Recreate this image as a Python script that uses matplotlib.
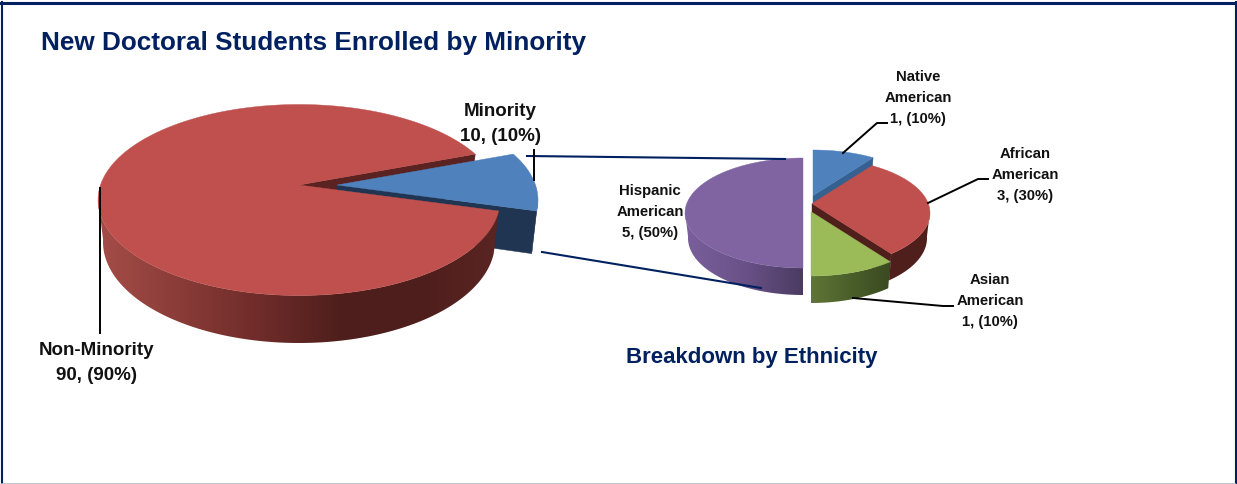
import itertools

import matplotlib
matplotlib.use('Agg')
import matplotlib.pyplot as plt
from matplotlib.colors import LinearSegmentedColormap
from matplotlib.patches import Polygon
import numpy as np

main_labels = ['Non-Minority', 'Minority']
main_values = [90, 10]
main_pcts = [90, 10]

eth_labels = ['Native\nAmerican', 'African\nAmerican', 'Asian\nAmerican', 'Hispanic\nAmerican']
eth_values = [1, 3, 1, 5]
eth_pcts = [10, 30, 10, 50]

NAVY = '#002060'
FONT = ['Liberation Sans']

# painter's order, images would go below patches otherwise
layer = itertools.count(3)


def slice_angles(values, start):
	# clockwise from start, in degrees
	frac = np.cumsum([0] + list(values)) / float(sum(values))
	return [(start - 360 * frac[i], start - 360 * frac[i + 1]) for i in range(len(values))]


def project(u, v, disc, level=0, off=(0, 0)):
	# perspective squash of the unit disc, so the apex sits above the ellipse centre
	cx, cy, rx, ry, b, depth, shrink, grow = disc
	rx = rx - shrink * level
	ry = ry + grow * level
	d = 1 + b * v
	px = u * np.sqrt(1 - b * b) / d
	py = (v + b) / d
	return cx + off[0] + rx * px, cy + off[1] + depth * level - ry * py


def arc(a0, a1, n=160):
	t = np.radians(np.linspace(a0, a1, n))
	return np.cos(t), np.sin(t)


def top_face(ax, angles, disc, color, off):
	u, v = arc(*angles)
	x, y = project(u, v, disc, 0, off)
	ax0, ay0 = project(0.0, 0.0, disc, 0, off)
	ax.fill(np.r_[ax0, x], np.r_[ay0, y], color=color, lw=0.3, zorder=next(layer))


def wall(ax, angle, disc, color, off):
	# flat cut face of a slice, from the apex to the rim
	t = np.radians(angle)
	u, v = np.array([0.0, np.cos(t)]), np.array([0.0, np.sin(t)])
	x0, y0 = project(u, v, disc, 0, off)
	x1, y1 = project(u, v, disc, 1, off)
	ax.fill(np.r_[x0, x1[::-1]], np.r_[y0, y1[::-1]], color=color, lw=0.3, zorder=next(layer))


def side(ax, angles, disc, colors, off):
	# outer rim facing the viewer, a left to right gradient clipped to the band
	u, v = arc(angles[0], angles[1], 400)
	keep = (v + disc[4]) / (1 + disc[4] * v) < 0.03
	u, v = u[keep], v[keep]
	x0, y0 = project(u, v, disc, 0, off)
	x1, y1 = project(u, v, disc, 1, off)
	xs = np.r_[x0, x1[::-1]]
	ys = np.r_[y0, y1[::-1]]
	band = Polygon(np.c_[xs, ys], closed=True, transform=ax.transData, facecolor='none', edgecolor='none')
	cmap = LinearSegmentedColormap.from_list('rim', colors)
	grad = np.linspace(0, 1, 256).reshape(1, -1)
	img = ax.imshow(grad, cmap=cmap, aspect='auto', extent=(xs.min(), xs.max(), ys.max(), ys.min()),
		zorder=next(layer))
	ax.add_patch(band)
	img.set_clip_path(band)


fig = plt.figure(figsize=(12.37, 4.84), dpi=100)
ax = fig.add_axes([0, 0, 1, 1])
ax.axis('off')

# frame
ax.plot([1, 1236], [2.5, 2.5], color=NAVY, lw=2.2)
ax.plot([1.5, 1.5], [2, 484], color=NAVY, lw=1.5)
ax.plot([1235.5, 1235.5], [2, 484], color=NAVY, lw=1.5)
ax.plot([2, 1235], [483.5, 483.5], color='#b4bcc4', lw=1.2)

# main pie
disc_main = (299, 200, 201, 95.5, 0.157, 42, 5, 5.5)
blue_a, red_a = slice_angles(main_values[::-1], 20.5)
off_blue = (38, 0)
wall(ax, red_a[1], disc_main, '#5a2220', (0, 0))
side(ax, blue_a, disc_main, ['#1f3552', '#1f3552'], off_blue)
wall(ax, blue_a[1], disc_main, '#1f3552', off_blue)
top_face(ax, blue_a, disc_main, '#4f81bd', off_blue)
side(ax, red_a, disc_main, ['#a54d48', '#8a3c38', '#6f2c2a', '#4f1f1c', '#4e1e1c', '#5a2522'], (0, 0))
top_face(ax, red_a, disc_main, '#bf504d', (0, 0))

# breakdown pie
disc_eth = (811, 213, 118, 55, 0.17, 25, 3, 2)
ang = slice_angles(eth_values, 90)
off_eth = [(2, -8), (1, 0), (0, 8), (-8, 0)]
side(ax, ang[3], disc_eth, ['#7a5f9c', '#6a5288', '#4b3b62'], off_eth[3])
top_face(ax, ang[3], disc_eth, '#8064a2', off_eth[3])
wall(ax, ang[0][1], disc_eth, '#35608f', off_eth[0])
top_face(ax, ang[0], disc_eth, '#4f81bd', off_eth[0])
wall(ax, ang[1][1], disc_eth, '#4f1f1c', off_eth[1])
side(ax, ang[1], disc_eth, ['#4f1f1c', '#4f1f1c'], off_eth[1])
top_face(ax, ang[1], disc_eth, '#bf504d', off_eth[1])
side(ax, ang[2], disc_eth, ['#5f7636', '#4a5e2a', '#3a4a20'], off_eth[2])
top_face(ax, ang[2], disc_eth, '#9bbb59', off_eth[2])

# connectors
z = next(layer)
ax.plot([527, 785], [156, 159], color=NAVY, lw=1.5, zorder=z)
ax.plot([542, 761], [252, 288], color=NAVY, lw=1.5, zorder=z)

# leader lines
leaders = [([100, 100], [188, 333]), ([534, 534], [150, 180]),
	([843, 877, 887], [153, 123, 123]), ([928, 978, 988], [203, 179, 179]),
	([853, 943, 953], [298, 306, 306])]
for lx, ly in leaders:
	ax.plot(lx, ly, color='black', lw=1.4, zorder=z)

# text
z = next(layer)
ax.text(41, 43, 'New Doctoral Students Enrolled by Minority', color=NAVY, fontsize=18.8,
	fontweight='bold', family=FONT, va='center', ha='left', zorder=z)
ax.text(752, 358, 'Breakdown by Ethnicity', color=NAVY, fontsize=16,
	fontweight='bold', family=FONT, va='center', ha='center', zorder=z)

main_pos = [(97, 363), (500, 124)]
for i in range(2):
	ax.text(main_pos[i][0], main_pos[i][1], '%s\n%d, (%d%%)' % (main_labels[i], main_values[i], main_pcts[i]),
		fontsize=13.5, fontweight='bold', family=FONT, ha='center', va='center',
		linespacing=1.58, color='#111111', zorder=z)

eth_pos = [(918, 98), (1025, 175), (990, 301), (650, 212)]
for i in range(4):
	ax.text(eth_pos[i][0], eth_pos[i][1], '%s\n%d, (%d%%)' % (eth_labels[i], eth_values[i], eth_pcts[i]),
		fontsize=10.7, fontweight='bold', family=FONT, ha='center', va='center',
		linespacing=1.65, color='#111111', zorder=z)

ax.set_xlim(0, 1237)
ax.set_ylim(484, 0)
fig.savefig('out.png', dpi=100)
